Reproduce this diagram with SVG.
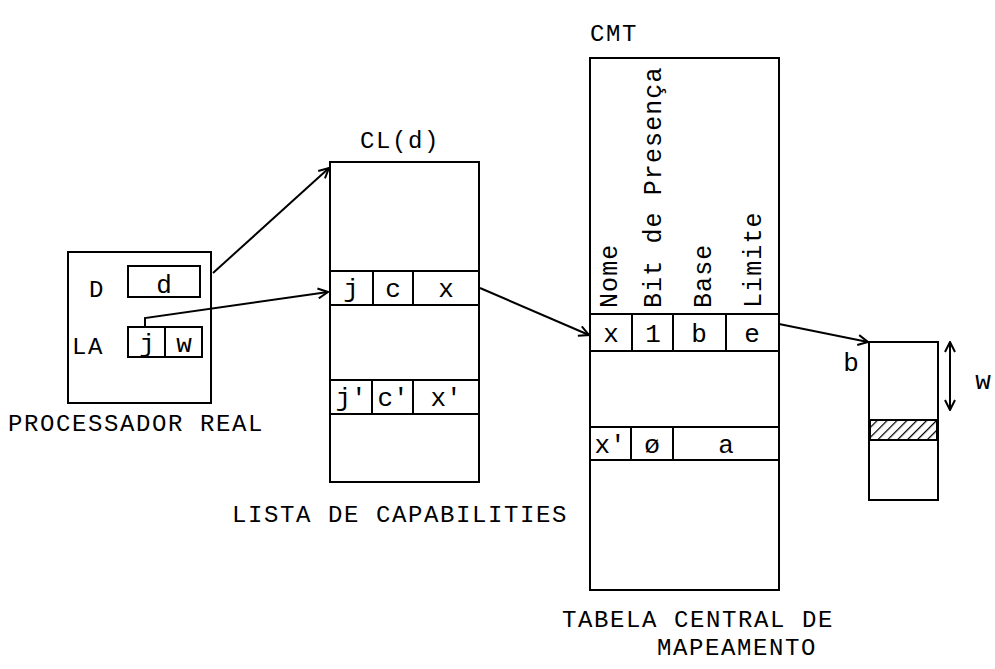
<svg xmlns="http://www.w3.org/2000/svg" width="995" height="669" viewBox="0 0 995 669">
<style>
  .b{fill:none;stroke:#000;stroke-width:2}
  .t{font-family:"Liberation Mono","DejaVu Sans Mono",monospace;font-size:24px;letter-spacing:1.6px;fill:#000}
  .c{font-family:"Liberation Mono","DejaVu Sans Mono",monospace;font-size:26px;fill:#000;text-anchor:middle}
  .v{font-family:"Liberation Mono","DejaVu Sans Mono",monospace;font-size:25px;letter-spacing:1.1px;fill:#000}
  .k{fill:none;stroke:#000;stroke-width:2}
</style>
<defs>
  <marker id="ah" viewBox="0 0 12 12" refX="11" refY="6" markerWidth="12" markerHeight="12" markerUnits="userSpaceOnUse" orient="auto-start-reverse">
    <path d="M1,1 L11,6 L1,11" fill="none" stroke="#000" stroke-width="2"/>
  </marker>
  <pattern id="hatch" patternUnits="userSpaceOnUse" width="7" height="7" patternTransform="rotate(45)">
    <line x1="0" y1="0" x2="0" y2="7" stroke="#000" stroke-width="2.5"/>
  </pattern>
</defs>

<g id="processador">
  <rect class="b" x="68" y="252" width="143" height="151"/>
  <text class="t" x="89" y="297">D</text>
  <rect class="b" x="128" y="266" width="72" height="31"/>
  <text class="c" x="164" y="293">d</text>
  <text class="t" x="72" y="354">LA</text>
  <rect class="b" x="128" y="327" width="74" height="30"/>
  <line class="b" x1="165" y1="327" x2="165" y2="357"/>
  <text class="c" x="147" y="352">j</text>
  <text class="c" x="184" y="352">w</text>
  <text class="t" x="8" y="431">PROCESSADOR REAL</text>
</g>

<g id="cl">
  <text class="t" x="360" y="148">CL(d)</text>
  <rect class="b" x="330" y="162" width="149" height="320"/>
  <line class="b" x1="330" y1="271" x2="479" y2="271"/>
  <line class="b" x1="330" y1="305" x2="479" y2="305"/>
  <line class="b" x1="373" y1="271" x2="373" y2="305"/>
  <line class="b" x1="413" y1="271" x2="413" y2="305"/>
  <text class="c" x="351" y="297">j</text>
  <text class="c" x="393" y="297">c</text>
  <text class="c" x="446" y="297">x</text>
  <line class="b" x1="330" y1="380" x2="479" y2="380"/>
  <line class="b" x1="330" y1="414" x2="479" y2="414"/>
  <line class="b" x1="372" y1="380" x2="372" y2="414"/>
  <line class="b" x1="413" y1="380" x2="413" y2="414"/>
  <text class="c" x="351" y="406">j'</text>
  <text class="c" x="393" y="406">c'</text>
  <text class="c" x="446" y="406">x'</text>
  <text class="t" x="232" y="522">LISTA DE CAPABILITIES</text>
</g>

<g id="cmt">
  <text class="t" x="590" y="41">CMT</text>
  <rect class="b" x="590" y="58" width="189" height="532"/>
  <text class="v" transform="translate(617,308) rotate(-90)">Nome</text>
  <text class="v" transform="translate(661,308) rotate(-90)">Bit de Presença</text>
  <text class="v" transform="translate(711,308) rotate(-90)">Base</text>
  <text class="v" transform="translate(761,308) rotate(-90)">Limite</text>
  <line class="b" x1="590" y1="314" x2="779" y2="314"/>
  <line class="b" x1="590" y1="351" x2="779" y2="351"/>
  <line class="b" x1="632" y1="314" x2="632" y2="351"/>
  <line class="b" x1="673" y1="314" x2="673" y2="351"/>
  <line class="b" x1="726" y1="314" x2="726" y2="351"/>
  <text class="c" x="611" y="342">x</text>
  <text class="c" x="653" y="342">1</text>
  <text class="c" x="699" y="342">b</text>
  <text class="c" x="752" y="342">e</text>
  <line class="b" x1="590" y1="427" x2="779" y2="427"/>
  <line class="b" x1="590" y1="460" x2="779" y2="460"/>
  <line class="b" x1="631" y1="427" x2="631" y2="460"/>
  <line class="b" x1="673" y1="427" x2="673" y2="460"/>
  <text class="c" x="610" y="453">x'</text>
  <text class="c" x="652" y="453">ø</text>
  <text class="c" x="726" y="453">a</text>
  <text class="t" x="562" y="627">TABELA CENTRAL DE</text>
  <text class="t" x="657" y="655">MAPEAMENTO</text>
</g>

<g id="memoria">
  <rect class="b" x="869" y="342" width="69" height="158"/>
  <rect x="870" y="420" width="67" height="20" fill="url(#hatch)" stroke="#000" stroke-width="2"/>
  <text class="c" x="851" y="371">b</text>
  <text class="c" x="983" y="389">w</text>
</g>

<g id="connectors">
  <line class="k" x1="213" y1="273" x2="329" y2="168" marker-end="url(#ah)"/>
  <polyline class="k" points="145,328 145,318 328,292" marker-end="url(#ah)"/>
  <line class="k" x1="480" y1="288" x2="589" y2="335" marker-end="url(#ah)"/>
  <line class="k" x1="779" y1="324" x2="868" y2="342" marker-end="url(#ah)"/>
  <line class="k" x1="950" y1="342" x2="950" y2="410" marker-start="url(#ah)" marker-end="url(#ah)"/>
</g>
</svg>
